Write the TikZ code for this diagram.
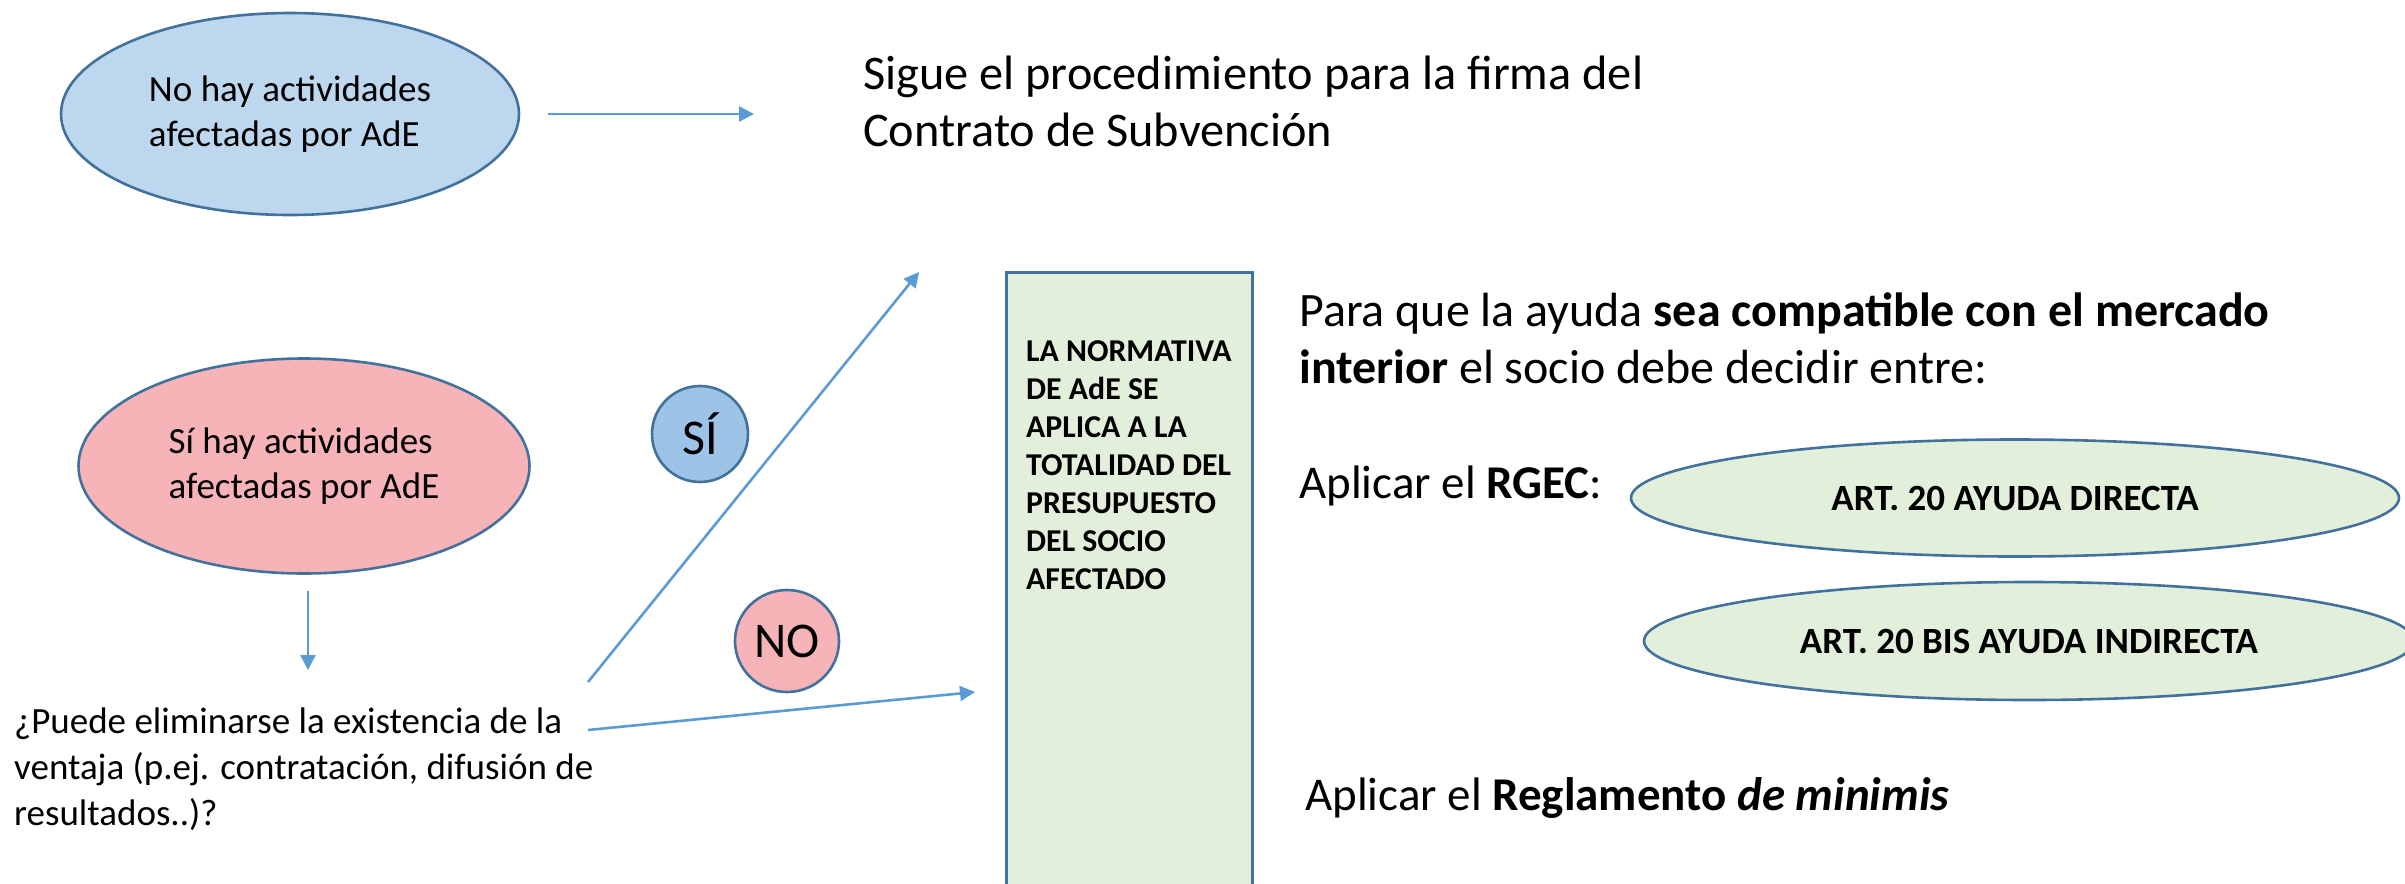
\documentclass[tikz,border=0pt]{standalone}
\usepackage{fontspec}
\setmainfont{Carlito}
\usetikzlibrary{arrows.meta,shapes.geometric}
\definecolor{arrowblue}{HTML}{5B9BD5}
\definecolor{edgeblue}{HTML}{41719C}
\definecolor{lightblue}{HTML}{BDD7EE}
\definecolor{midblue}{HTML}{9DC3E6}
\definecolor{pinkfill}{HTML}{F6B3B8}
\definecolor{greenfill}{HTML}{E2EFDA}
\tikzset{
  conn/.style={draw=arrowblue, line width=2.6pt, -{Triangle[length=15pt,width=15pt]}},
  oval/.style={ellipse, draw=edgeblue, line width=2.6pt, inner sep=0pt, align=left},
  plain/.style={inner sep=0pt, align=left, anchor=base west},
  bigtxt/.style={font=\fontsize{47}{57}\selectfont},
  midtxt/.style={font=\fontsize{37}{45.5}\selectfont},
  arttxt/.style={font=\fontsize{37}{42}\bfseries\selectfont},
}
\begin{document}
\begin{tikzpicture}[x=1pt,y=-1pt]
\useasboundingbox (0,0) rectangle (2405,883);
% left ellipses
\node[oval, fill=lightblue, minimum width=458pt, minimum height=202pt, midtxt] (noact) at (290,114)
  {No hay actividades\\afectadas por AdE};
\node[oval, fill=pinkfill, minimum width=451pt, minimum height=215pt, midtxt] (siact) at (304,466)
  {Sí hay actividades\\afectadas por AdE};
% top text (base anchor = last line)
\node[plain, font=\fontsize{48.3}{57}\selectfont] (sigue) at (863,146) {Sigue el procedimiento para la firma del\\Contrato de Subvención};
% question
\node[plain, font=\fontsize{37}{46}\selectfont] (preg) at (14,825)
  {¿Puede eliminarse la existencia de la\\ventaja (p.ej. contratación, difusión de\\resultados..)?};
% SI / NO circles
\node[circle, draw=edgeblue, line width=2.6pt, fill=midblue, minimum size=96pt, inner sep=0pt,
  font=\fontsize{50}{54}\selectfont] (si) at (700,434) {SÍ};
\node[ellipse, draw=edgeblue, line width=2.6pt, fill=pinkfill, minimum width=104pt, minimum height=102pt, inner sep=0pt,
  font=\fontsize{50}{54}\selectfont] (no) at (787,641) {NO};
% green box
\node[rectangle, draw=edgeblue, line width=2.6pt, fill=greenfill, anchor=north west,
  minimum width=246pt, minimum height=640pt, inner sep=0pt] (box) at (1005,271) {};
\node[plain, font=\fontsize{31.8}{38}\bfseries\selectfont] (boxtxt) at (1026,589)
  {LA NORMATIVA\\DE AdE SE\\APLICA A LA\\TOTALIDAD DEL\\PRESUPUESTO\\DEL SOCIO\\AFECTADO};
% right text
\node[plain, font=\fontsize{48}{57}\selectfont] (para) at (1299,383)
  {Para que la ayuda \textbf{sea compatible con el mercado}\\\textbf{interior} el socio debe decidir entre:};
\node[plain, bigtxt] (rgec) at (1299,498) {Aplicar el \textbf{RGEC}:};
\node[oval, fill=greenfill, minimum width=768pt, minimum height=117pt, align=center, arttxt] (art20) at (2015,498) {ART. 20 AYUDA DIRECTA};
\node[oval, fill=greenfill, minimum width=770pt, minimum height=118pt, align=center, arttxt] (art20bis) at (2029,641) {ART. 20 BIS AYUDA INDIRECTA};
\node[plain, bigtxt] (minimis) at (1305,810) {Aplicar el \textbf{Reglamento \textit{de minimis}}};
% connector end points
\coordinate (a1s) at (548,114);
\coordinate (a1e) at (754,114);
\coordinate (a2s) at (308,591);
\coordinate (a2e) at (308,670);
\coordinate (a3s) at (588,682);
\coordinate (a3e) at (919,272);
\coordinate (a4s) at (588,730);
\coordinate (a4e) at (975,692);
\draw[conn] (a1s) -- (a1e);
\draw[conn] (a2s) -- (a2e);
\draw[conn] (a3s) -- (a3e);
\draw[conn] (a4s) -- (a4e);
\end{tikzpicture}
\end{document}
